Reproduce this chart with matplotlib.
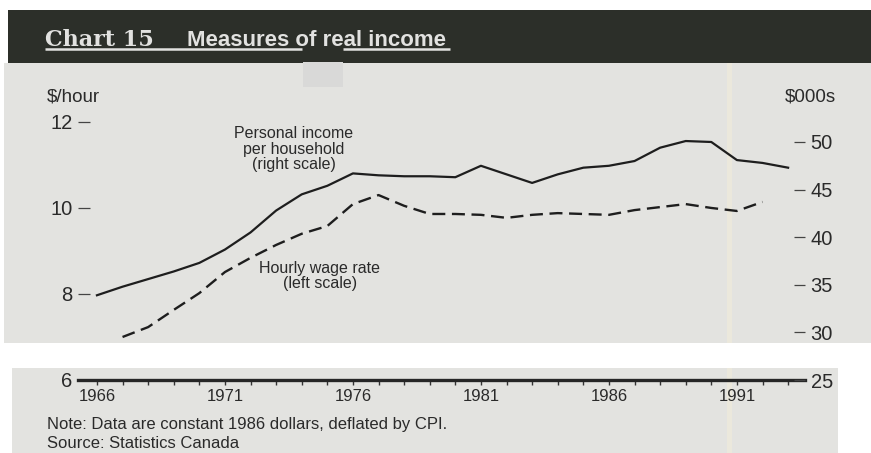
import matplotlib
matplotlib.use("Agg")
import matplotlib.pyplot as plt
from matplotlib.patches import Rectangle
from matplotlib.ticker import MultipleLocator

# Chart 15 - Measures of real income (constant 1986 dollars)
income_years = list(range(1966, 1994))
income = [33.9, 34.8, 35.6, 36.4, 37.3, 38.7, 40.5, 42.8, 44.5, 45.4,
          46.7, 46.5, 46.4, 46.4, 46.3, 47.5, 46.6, 45.7, 46.6, 47.3,
          47.5, 48.0, 49.4, 50.1, 50.0, 48.1, 47.8, 47.3]

wage_years = list(range(1967, 1993))
wage = [7.00, 7.23, 7.63, 8.02, 8.51, 8.84, 9.14, 9.40, 9.58, 10.09,
        10.30, 10.05, 9.86, 9.86, 9.84, 9.77, 9.84, 9.88, 9.86, 9.84,
        9.95, 10.02, 10.09, 10.00, 9.93, 10.14]

left_ticks = [6, 8, 10, 12]
right_ticks = [25, 30, 35, 40, 45, 50]
year_labels = [1966, 1971, 1976, 1981, 1986, 1991]

plt.rcParams['font.family'] = ['Liberation Sans', 'DejaVu Sans']

W, H = 871, 453
fig = plt.figure(figsize=(W / 100, H / 100), dpi=100)
fig.patch.set_facecolor("white")

# background / page decoration in pixel coords
bg = fig.add_axes([0, 0, 1, 1], zorder=-1)
bg.set_xlim(0, W)
bg.set_ylim(H, 0)
bg.axis("off")
paper = "#e3e3e0"
bg.add_patch(Rectangle((4, 63), W - 4, 280, color=paper, lw=0))
bg.add_patch(Rectangle((12, 368), 826, H - 368, color=paper, lw=0))
bg.add_patch(Rectangle((8, 10), W - 8, 53, color="#2c2f29", lw=0))
bg.add_patch(Rectangle((303, 62), 40, 25, color="#d9d9d8", lw=0))
bg.add_patch(Rectangle((727, 63), 5, 280, color="#ebe8dc", lw=0))
bg.add_patch(Rectangle((727, 368), 5, H - 368, color="#ebe8dc", lw=0))

title_col = "#e2e2e0"
bg.text(45, 46, "Chart 15", family="DejaVu Serif", weight="bold", fontsize=16,
        color=title_col, va="baseline", ha="left")
bg.text(187, 46, "Measures of real income", weight="bold",
        fontsize=16, color=title_col, va="baseline", ha="left")
bg.plot([45, 302], [48.5, 48.5], color=title_col, lw=1.8, solid_capstyle="butt")
bg.plot([343, 450], [48.5, 48.5], color=title_col, lw=1.8, solid_capstyle="butt")

txt = "#2a2a2a"
bg.text(47, 97, "$/hour", fontsize=13.5, color=txt, va="center", ha="left")
bg.text(785, 97, "$000s", fontsize=13.5, color=txt, va="center", ha="left")
bg.text(47, 425, "Note: Data are constant 1986 dollars, deflated by CPI.",
        fontsize=12, color=txt, va="center", ha="left")
bg.text(47, 444, "Source: Statistics Canada",
        fontsize=12, color=txt, va="center", ha="left")

# main plot
ax = fig.add_axes([78 / W, (H - 380) / H, (805 - 78) / W, 280 / H])
ax.set_facecolor("none")
ax.set_xlim(1965.26, 1993.66)
ax.set_ylim(6, 12.51)
ax2 = ax.twinx()
ax2.set_ylim(25, 54.41)

for a in (ax, ax2):
    for s in ("top", "left", "right"):
        a.spines[s].set_visible(False)
ax2.spines["bottom"].set_visible(False)
ax.spines["bottom"].set_linewidth(2.4)
ax.spines["bottom"].set_color("#262626")

ax.plot(wage_years, wage, color="#1e1e1e", lw=1.7, dashes=(5.5, 2.8))
ax2.plot(income_years, income, color="#1e1e1e", lw=1.6)

ax.set_xticks(year_labels)
ax.xaxis.set_minor_locator(MultipleLocator(1))
ax.tick_params(axis="x", which="both", direction="out", length=3.5, width=1,
               color="#333333", labelsize=12, labelcolor=txt, pad=3)

ax.set_yticks(left_ticks)
ax.tick_params(axis="y", direction="in", length=8.5, width=0.9, color="#444444",
               labelsize=14.5, labelcolor=txt, pad=4)
ax2.set_yticks(right_ticks)
ax2.tick_params(axis="y", direction="in", length=8, width=0.9, color="#444444",
                labelsize=14.5, labelcolor=txt, pad=4)

ax.text(1973.7, 11.37, "Personal income\nper household\n(right scale)",
        fontsize=11.5, color=txt, ha="center", va="center", linespacing=1.05)
ax.text(1974.7, 8.42, "Hourly wage rate\n(left scale)",
        fontsize=11.5, color=txt, ha="center", va="center", linespacing=1.05)

fig.savefig("out.png", dpi=100)
